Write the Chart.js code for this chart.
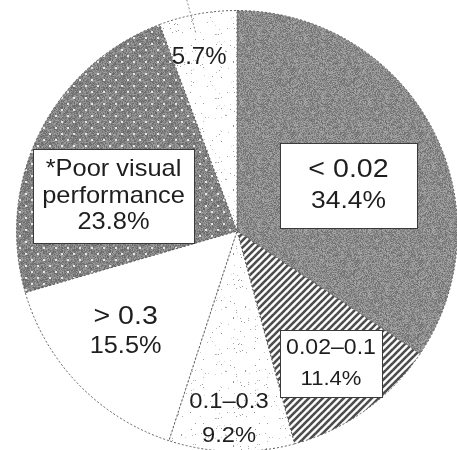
<!DOCTYPE html>
<html>
<head>
<meta charset="utf-8">
<script src="https://cdn.jsdelivr.net/npm/chart.js@4.4.1/dist/chart.umd.min.js"></script>
<style>
  html, body { margin: 0; padding: 0; background: #ffffff; overflow: hidden; width: 457px; height: 450px; }
  #chart { position: absolute; left: 0; top: 0; }
</style>
</head>
<body>
<canvas id="chart" width="460" height="460"></canvas>
<script>
// Slices, clockwise from 12 o'clock
const categories = ['< 0.02', '0.02\u20130.1', '0.1\u20130.3', '> 0.3', '*Poor visual\nperformance', ''];
const shares = [34.4, 11.4, 9.2, 15.5, 23.8, 5.7];
const shareLabels = shares.map(v => v.toFixed(1) + '%');

const canvas = document.getElementById('chart');
const ctx = canvas.getContext('2d');

// Deterministic pixel hash used for grainy textures
function hash(x, y, s) {
  let h = Math.imul(x, 374761393) ^ Math.imul(y, 668265263) ^ Math.imul(s, 2246822519);
  h = Math.imul(h ^ (h >>> 13), 1274126177);
  h = h ^ (h >>> 16);
  return (h >>> 0) / 4294967295;
}

function tile(w, h, draw) {
  const c = document.createElement('canvas');
  c.width = w; c.height = h;
  draw(c.getContext('2d'), w, h);
  return ctx.createPattern(c, 'repeat');
}

// Grainy mid grey
const greyNoise = tile(64, 64, (g, w, h) => {
  const img = g.createImageData(w, h);
  for (let y = 0; y < h; y++) for (let x = 0; x < w; x++) {
    const v = 108 + Math.floor(hash(x, y, 1) * 62);
    const i = (y * w + x) * 4;
    img.data[i] = img.data[i + 1] = img.data[i + 2] = v; img.data[i + 3] = 255;
  }
  g.putImageData(img, 0, 0);
});

// Diagonal hatching
const hatch = tile(7, 7, (g, w, h) => {
  g.fillStyle = '#ffffff'; g.fillRect(0, 0, w, h);
  g.strokeStyle = '#4d4d4d'; g.lineWidth = 2.6;
  for (const k of [-7, 0, 7]) {
    g.beginPath(); g.moveTo(k - 1, h + 1); g.lineTo(k + w + 1, -1); g.stroke();
  }
});

// Sparse speckles on white
const speckle = tile(64, 64, (g, w, h) => {
  const img = g.createImageData(w, h);
  for (let y = 0; y < h; y++) for (let x = 0; x < w; x++) {
    const r = hash(x, y, 7);
    const v = r < 0.025 ? 140 + Math.floor(hash(x, y, 9) * 80) : 255;
    const i = (y * w + x) * 4;
    img.data[i] = img.data[i + 1] = img.data[i + 2] = v; img.data[i + 3] = 255;
  }
  g.putImageData(img, 0, 0);
});

// Grey with a staggered grid of white dots
const dotted = tile(48, 48, (g, w, h) => {
  const img = g.createImageData(w, h);
  for (let y = 0; y < h; y++) for (let x = 0; x < w; x++) {
    const v = 100 + Math.floor(hash(x, y, 3) * 62);
    const i = (y * w + x) * 4;
    img.data[i] = img.data[i + 1] = img.data[i + 2] = v; img.data[i + 3] = 255;
  }
  g.putImageData(img, 0, 0);
  g.fillStyle = '#e6e6e6';
  for (let y = 0; y < h; y += 12) for (let x = 0; x < w; x += 12) {
    g.fillRect(x + 1, y + 1, 2, 2);
    g.fillRect(x + 7, y + 7, 2, 2);
  }
});

const fills = [greyNoise, hatch, speckle, '#ffffff', dotted, speckle];

// Label placement: fraction of the radius and angular nudge (degrees) from slice middle
const labelRadius = [0.546, 0.737, 0.853, 0.682, 0.582, 0.808];
const labelAngleShift = [5.9, 0.3, 1.0, 1.9, -10.8, -2.0];
const labelStyle = [
  { nameSize: 26, valueSize: 24, gap: 32, sx: 1.1, box: [137, 85] },
  { nameSize: 22, valueSize: 21, gap: 32, sx: 1.05, box: [102, 67] },
  { nameSize: 22, valueSize: 22, gap: 34, sx: 1.08, box: null },
  { nameSize: 26, valueSize: 23, gap: 30, sx: 1.1, box: null },
  { nameSize: 24, valueSize: 24, gap: 26.5, sx: 1.06, box: [161, 94] },
  { nameSize: 24, valueSize: 24, gap: 0, sx: 1.0, box: null }
];

const sliceLabels = {
  id: 'sliceLabels',
  afterDatasetsDraw(chart) {
    const c = chart.ctx;
    const meta = chart.getDatasetMeta(0);
    meta.data.forEach((arc, i) => {
      const p = arc.getProps(['x', 'y', 'startAngle', 'endAngle', 'outerRadius'], true);
      const st = labelStyle[i];
      const ang = (p.startAngle + p.endAngle) / 2 + labelAngleShift[i] * Math.PI / 180;
      const r = p.outerRadius * labelRadius[i];
      const cx = p.x + Math.cos(ang) * r;
      const cy = p.y + Math.sin(ang) * r;

      // Leader line running out of the smallest slice
      if (i === 5) {
        const a = ang + 0.5 * Math.PI / 180;
        c.save();
        c.strokeStyle = '#8a8a8a'; c.lineWidth = 1; c.setLineDash([2, 2]);
        c.beginPath();
        c.moveTo(p.x + Math.cos(a) * p.outerRadius * 0.92, p.y + Math.sin(a) * p.outerRadius * 0.92);
        c.lineTo(p.x + Math.cos(a - 0.01) * p.outerRadius * 1.1, p.y + Math.sin(a - 0.01) * p.outerRadius * 1.1);
        c.stroke();
        c.restore();
      }

      if (st.box) {
        const [bw, bh] = st.box;
        c.save();
        c.fillStyle = '#ffffff';
        c.fillRect(Math.round(cx - bw / 2) + 0.5, Math.round(cy - bh / 2) + 0.5, bw, bh);
        c.strokeStyle = '#3a3a3a'; c.lineWidth = 1;
        c.strokeRect(Math.round(cx - bw / 2) + 0.5, Math.round(cy - bh / 2) + 0.5, bw, bh);
        c.restore();
      }

      const lines = [];
      if (categories[i]) categories[i].split('\n').forEach(t => lines.push({ t, size: st.nameSize }));
      lines.push({ t: shareLabels[i], size: st.valueSize });
      const top = cy - (lines.length - 1) * st.gap / 2;
      c.save();
      c.fillStyle = '#1e1e1e';
      c.textAlign = 'center';
      c.textBaseline = 'middle';
      lines.forEach((ln, k) => {
        c.save();
        c.translate(cx, top + k * st.gap);
        c.scale(st.sx, 1);
        c.font = ln.size + 'px "Liberation Sans", Arial, sans-serif';
        c.fillText(ln.t, 0, 0);
        c.restore();
      });
      c.restore();
    });
  }
};

new Chart(canvas, {
  type: 'pie',
  data: {
    labels: categories,
    datasets: [{
      data: shares,
      backgroundColor: fills,
      borderColor: '#5e5e5e',
      borderWidth: 1,
      borderDash: [2, 2]
    }]
  },
  options: {
    responsive: false,
    devicePixelRatio: 1,
    animation: false,
    layout: { padding: { left: 16, right: 2, top: 10, bottom: 8 } },
    plugins: {
      legend: { display: false },
      tooltip: { enabled: false }
    }
  },
  plugins: [sliceLabels]
});
</script>
</body>
</html>
